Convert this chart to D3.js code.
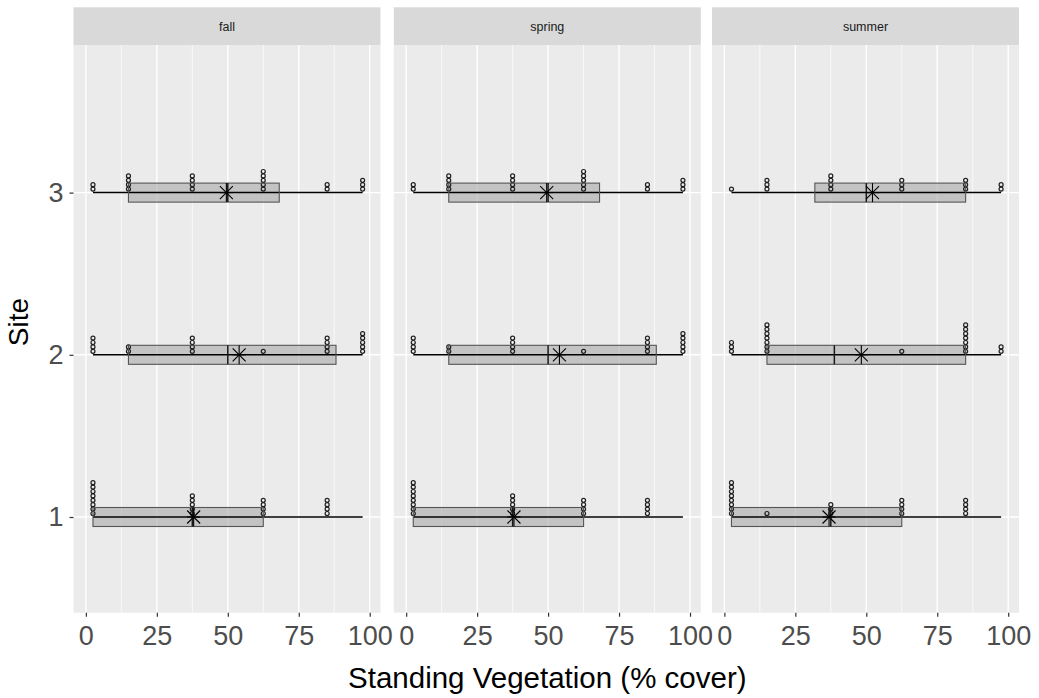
<!DOCTYPE html>
<html>
<head>
<meta charset="utf-8">
<script src="https://cdn.jsdelivr.net/npm/d3@7"></script>
<style>
  html, body { margin: 0; padding: 0; background: #ffffff; }
  svg { display: block; font-family: "Liberation Sans", Arial, sans-serif; }
</style>
</head>
<body>
<svg id="chart" width="1039" height="698"></svg>
<script>
// Cover classes (class midpoints, % cover)
const coverClasses = [2.5, 15, 37.5, 62.5, 85, 97.5];
const seasons = ["fall", "spring", "summer"];
const sites = [1, 2, 3];

// Number of observations in each cover class, one row per site (1, 2, 3)
const fallCounts = [
  [8, 0, 5, 4, 4, 0],
  [4, 2, 4, 1, 4, 5],
  [2, 4, 4, 5, 2, 3]
];
const springCounts = [
  [8, 0, 5, 4, 4, 0],
  [4, 2, 4, 1, 4, 5],
  [2, 4, 4, 5, 2, 3]
];
const summerCounts = [
  [8, 1, 3, 4, 4, 0],
  [3, 7, 0, 1, 7, 2],
  [1, 3, 4, 3, 3, 2]
];

const xTicks = [0, 25, 50, 75, 100];
const xMinor = [12.5, 37.5, 62.5, 87.5];
const xDomain = [-4.36, 103.8];
const yDomain = [0.41, 3.91];

const countsBySeason = { fall: fallCounts, spring: springCounts, summer: summerCounts };

// Layout
const panelLefts = [73.5, 393.8, 712];
const panelW = 307;
const stripTop = 7.3, stripBottom = 45;
const panelTop = 45, panelBottom = 612.7;
const boxH = 19;
const dotD = 4.4;
const tickFont = 27;
const titleFont = 29.5;

const svg = d3.select("#chart");

const y = d3.scaleLinear().domain(yDomain).range([panelBottom, panelTop]);

// The range line spans the full set of cover classes
const lineExtent = d3.extent(coverClasses);

function stats(counts) {
  const vals = [];
  counts.forEach((c, i) => { for (let k = 0; k < c; k++) vals.push(coverClasses[i]); });
  vals.sort(d3.ascending);
  return {
    q1: d3.quantile(vals, 0.25),
    med: d3.quantile(vals, 0.5),
    q3: d3.quantile(vals, 0.75),
    mean: d3.mean(vals)
  };
}

seasons.forEach((season, si) => {
  const left = panelLefts[si];
  const x = d3.scaleLinear().domain(xDomain).range([left, left + panelW]);
  const g = svg.append("g");

  // strip
  g.append("rect")
    .attr("x", left).attr("y", stripTop)
    .attr("width", panelW).attr("height", stripBottom - stripTop)
    .attr("fill", "#d9d9d9");
  g.append("text")
    .attr("x", left + panelW / 2).attr("y", (stripTop + stripBottom) / 2 + 4.5)
    .attr("text-anchor", "middle")
    .attr("font-size", 12.5)
    .attr("fill", "#1a1a1a")
    .text(season);

  // panel background
  g.append("rect")
    .attr("x", left).attr("y", panelTop)
    .attr("width", panelW).attr("height", panelBottom - panelTop)
    .attr("fill", "#ebebeb");

  // grid
  g.selectAll(".minor").data(xMinor).join("line")
    .attr("x1", d => x(d)).attr("x2", d => x(d))
    .attr("y1", panelTop).attr("y2", panelBottom)
    .attr("stroke", "#ffffff").attr("stroke-width", 0.7);
  g.selectAll(".major").data(xTicks).join("line")
    .attr("x1", d => x(d)).attr("x2", d => x(d))
    .attr("y1", panelTop).attr("y2", panelBottom)
    .attr("stroke", "#ffffff").attr("stroke-width", 1.4);
  g.selectAll(".hgrid").data(sites).join("line")
    .attr("x1", left).attr("x2", left + panelW)
    .attr("y1", d => y(d)).attr("y2", d => y(d))
    .attr("stroke", "#ffffff").attr("stroke-width", 1.4);

  // bottom axis
  const ax = d3.axisBottom(x).tickValues(xTicks).tickSize(4).tickPadding(9).tickFormat(d3.format("d"));
  const axG = g.append("g").attr("transform", `translate(0,${panelBottom})`).call(ax);
  axG.select(".domain").remove();
  axG.selectAll(".tick line").attr("stroke", "#333333").attr("stroke-width", 1.2);
  axG.selectAll(".tick text")
    .attr("font-size", tickFont).attr("fill", "#4d4d4d")
    .attr("font-family", "'Liberation Sans', Arial, sans-serif");

  const counts = countsBySeason[season];
  sites.forEach((site, ri) => {
    const c = counts[ri];
    const s = stats(c);
    const cy = y(site);

    // box fill
    g.append("rect")
      .attr("x", x(s.q1)).attr("y", cy - boxH / 2)
      .attr("width", x(s.q3) - x(s.q1)).attr("height", boxH)
      .attr("fill", "#a8a8a8").attr("fill-opacity", 0.6);

    // range line
    g.append("line")
      .attr("x1", x(lineExtent[0])).attr("x2", x(lineExtent[1]))
      .attr("y1", cy).attr("y2", cy)
      .attr("stroke", "#000000").attr("stroke-width", 1.5);

    // stacked dots
    const dots = [];
    c.forEach((n, i) => { for (let k = 0; k < n; k++) dots.push({ v: coverClasses[i], k }); });
    g.selectAll(null).data(dots).join("circle")
      .attr("cx", d => x(d.v))
      .attr("cy", d => cy - 1.3 - dotD / 2 - d.k * dotD)
      .attr("r", 2)
      .attr("fill", "none")
      .attr("stroke", "#1f1f1f")
      .attr("stroke-width", 1.2);

    // box outline
    g.append("rect")
      .attr("x", x(s.q1)).attr("y", cy - boxH / 2)
      .attr("width", x(s.q3) - x(s.q1)).attr("height", boxH)
      .attr("fill", "none").attr("stroke", "#555555").attr("stroke-width", 1.1);

    // median
    g.append("line")
      .attr("x1", x(s.med)).attr("x2", x(s.med))
      .attr("y1", cy - boxH / 2).attr("y2", cy + boxH / 2)
      .attr("stroke", "#1a1a1a").attr("stroke-width", 1.5);

    // mean (asterisk)
    const mx = x(s.mean);
    const a = 9.5, b = 6.5;
    const ast = g.append("g").attr("stroke", "#000000").attr("stroke-width", 1.1);
    ast.append("line").attr("x1", mx).attr("x2", mx).attr("y1", cy - a).attr("y2", cy + a);
    ast.append("line").attr("x1", mx - b).attr("x2", mx + b).attr("y1", cy).attr("y2", cy);
    ast.append("line").attr("x1", mx - b).attr("x2", mx + b).attr("y1", cy - b).attr("y2", cy + b);
    ast.append("line").attr("x1", mx - b).attr("x2", mx + b).attr("y1", cy + b).attr("y2", cy - b);
  });
});

// left axis
const ay = d3.axisLeft(y).tickValues(sites).tickSize(4).tickPadding(6).tickFormat(d3.format("d"));
const ayG = svg.append("g").attr("transform", `translate(${panelLefts[0]},0)`).call(ay);
ayG.select(".domain").remove();
ayG.selectAll(".tick line").attr("stroke", "#333333").attr("stroke-width", 1.2);
ayG.selectAll(".tick text")
  .attr("font-size", tickFont).attr("fill", "#4d4d4d")
  .attr("font-family", "'Liberation Sans', Arial, sans-serif");

// axis titles
svg.append("text")
  .attr("x", panelLefts[1] + panelW / 2).attr("y", 688)
  .attr("text-anchor", "middle")
  .attr("font-size", titleFont).attr("fill", "#000000")
  .text("Standing Vegetation (% cover)");
svg.append("text")
  .attr("transform", `translate(28,322) rotate(-90)`)
  .attr("text-anchor", "middle")
  .attr("font-size", 28).attr("fill", "#000000")
  .text("Site");
</script>
</body>
</html>
